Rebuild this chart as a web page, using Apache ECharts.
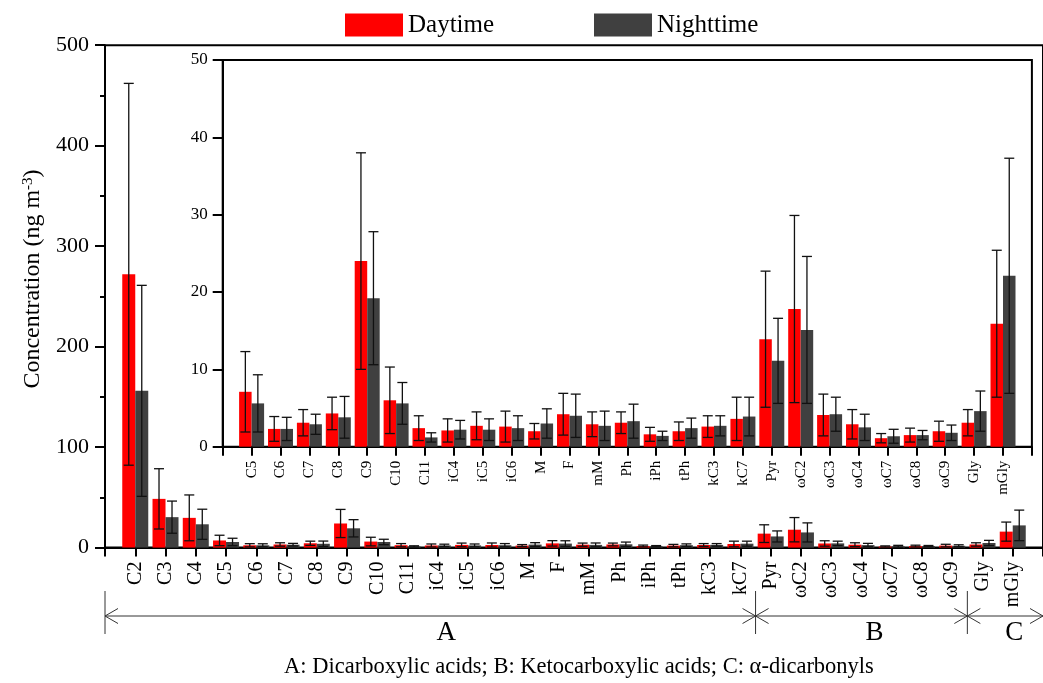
<!DOCTYPE html>
<html>
<head>
<meta charset="utf-8">
<script src="https://cdn.jsdelivr.net/npm/echarts@6/dist/echarts.min.js"></script>
<style>
html,body{margin:0;padding:0;background:#fff;}
#chart{width:1043px;height:683px;}
</style>
</head>
<body>
<div id="chart"></div>
<script>
// ---- data ----
var categories = ['C2','C3','C4','C5','C6','C7','C8','C9','C10','C11','iC4','iC5','iC6','M','F','mM','Ph','iPh','tPh','kC3','kC7','Pyr','ωC2','ωC3','ωC4','ωC7','ωC8','ωC9','Gly','mGly'];
var daytime =      [272, 48.5, 29.6, 7.1, 2.3, 3.1, 4.3, 24.0, 6.0, 2.4, 2.1, 2.7, 2.6, 2.0, 4.2, 2.9, 3.1, 1.6, 2.0, 2.6, 3.6, 13.9, 17.8, 4.1, 2.9, 1.1, 1.5, 2.0, 3.1, 15.9];
var daytimeErr =   [190, 30, 22.8, 5.2, 1.6, 1.7, 2.1, 14.0, 4.3, 1.6, 1.5, 1.8, 2.0, 1.0, 2.7, 1.6, 1.4, 0.9, 1.2, 1.4, 2.8, 8.8, 12.1, 2.7, 1.9, 0.6, 0.9, 1.3, 1.7, 9.5];
var nighttime =    [156, 30.3, 23.2, 5.6, 2.3, 2.9, 3.8, 19.2, 5.6, 1.2, 2.2, 2.2, 2.4, 3.0, 4.0, 2.7, 3.3, 1.4, 2.4, 2.7, 3.9, 11.1, 15.1, 4.2, 2.5, 1.35, 1.5, 1.8, 4.6, 22.1];
var nighttimeErr = [105, 16, 15, 3.7, 1.5, 1.3, 2.7, 8.6, 2.7, 0.6, 1.2, 1.4, 1.6, 1.9, 2.8, 1.9, 2.2, 0.6, 1.3, 1.3, 2.5, 5.5, 9.5, 2.2, 1.7, 0.9, 0.6, 1.0, 2.6, 15.2];
var insetFirst = 'C5';
var groupNames = ['A', 'B', 'C'];
var groupSizes = [21, 7, 2];
var footnote = 'A: Dicarboxylic acids; B: Ketocarboxylic acids; C: α-dicarbonyls';

// ---- build ----
var FONT = "'Liberation Serif','Times New Roman',serif";
var RED = '#ff0000', DARK = '#404040';
var insetStart = categories.indexOf(insetFirst);
var insetCats = categories.slice(insetStart);

function pairs(vals, start) {
  return vals.slice(start).map(function (v, i) { return [i + 1, v]; });
}
function triples(vals, errs, start) {
  return vals.slice(start).map(function (v, i) { return [i + 1, v, errs[start + i]]; });
}
function errSeries(data, xi, offset, cap, z) {
  return {
    type: 'custom', xAxisIndex: xi, yAxisIndex: xi, z: z, silent: true,
    data: data,
    renderItem: function (params, api) {
      var x = api.value(0), y = api.value(1), e = api.value(2);
      var hi = api.coord([x, y + e]);
      var lo = api.coord([x, Math.max(y - e, 0)]);
      var cx = hi[0] + offset;
      var st = { stroke: '#111', lineWidth: 1.3 };
      return { type: 'group', children: [
        { type: 'line', shape: { x1: cx, y1: hi[1], x2: cx, y2: lo[1] }, style: st },
        { type: 'line', shape: { x1: cx - cap, y1: hi[1], x2: cx + cap, y2: hi[1] }, style: st },
        { type: 'line', shape: { x1: cx - cap, y1: lo[1], x2: cx + cap, y2: lo[1] }, style: st }
      ]};
    }
  };
}

var mainBW = 13, insetBW = 12.5;
var axisLineStyle = { lineStyle: { color: '#000', width: 2 } };

var chart = echarts.init(document.getElementById('chart'), null, { renderer: 'canvas' });
var option = {
  animation: false,
  backgroundColor: '#fff',
  legend: [
    { data: ['Daytime'], left: 345, top: 12.5, padding: 0, icon: 'rect', itemWidth: 58, itemHeight: 23,
      textStyle: { fontFamily: FONT, fontSize: 25, color: '#000' } },
    { data: ['Nighttime'], left: 594, top: 12.5, padding: 0, icon: 'rect', itemWidth: 58, itemHeight: 23,
      textStyle: { fontFamily: FONT, fontSize: 25, color: '#000' } }
  ],
  grid: [
    { left: 105, top: 45.2, width: 945.5, height: 502.4, show: true, borderColor: '#000', borderWidth: 2, backgroundColor: 'transparent' },
    { left: 222.7, top: 60, width: 809.2, height: 386.7, show: true, borderColor: '#000', borderWidth: 2, backgroundColor: '#fff', z: 3 }
  ],
  xAxis: [
    { type: 'value', gridIndex: 0, min: 0, max: 31, interval: 1, splitLine: { show: false },
      axisLine: axisLineStyle, axisTick: { length: 9, lineStyle: { width: 2, color: '#000' } },
      axisLabel: { rotate: 90, margin: 14, fontFamily: FONT, fontSize: 20, color: '#000',
        formatter: function (v) { return categories[v - 1] || ''; } } },
    { type: 'value', gridIndex: 1, min: 0, max: 28, interval: 1, splitLine: { show: false }, z: 4,
      axisLine: axisLineStyle, axisTick: { length: 9, lineStyle: { width: 2, color: '#000' } },
      axisLabel: { rotate: 90, margin: 14, fontFamily: FONT, fontSize: 15, color: '#000',
        formatter: function (v) { return insetCats[v - 1] || ''; } } }
  ],
  yAxis: [
    { type: 'value', gridIndex: 0, min: 0, max: 500, interval: 100, splitLine: { show: false },
      axisLine: { show: true, lineStyle: { color: '#000', width: 2 } },
      axisTick: { show: true, length: 10, lineStyle: { width: 2, color: '#000' } },
      minorTick: { show: true, splitNumber: 2, length: 5, lineStyle: { width: 2, color: '#000' } },
      axisLabel: { margin: 16, fontFamily: FONT, fontSize: 22, color: '#000' } },
    { type: 'value', gridIndex: 1, min: 0, max: 50, interval: 10, splitLine: { show: false }, z: 4,
      axisLine: { show: true, lineStyle: { color: '#000', width: 2 } },
      axisTick: { show: true, length: 10, lineStyle: { width: 2, color: '#000' } },
      axisLabel: { margin: 15, fontFamily: FONT, fontSize: 17, color: '#000' } }
  ],
  series: [
    { name: 'Daytime', type: 'bar', xAxisIndex: 0, yAxisIndex: 0, barWidth: mainBW, barGap: '0%', itemStyle: { color: RED }, data: pairs(daytime, 0) },
    { name: 'Nighttime', type: 'bar', xAxisIndex: 0, yAxisIndex: 0, barWidth: mainBW, barGap: '0%', itemStyle: { color: DARK }, data: pairs(nighttime, 0) },
    errSeries(triples(daytime, daytimeErr, 0), 0, -mainBW / 2, 5, 5),
    errSeries(triples(nighttime, nighttimeErr, 0), 0, mainBW / 2, 5, 5),
    { name: 'Daytime', type: 'bar', xAxisIndex: 1, yAxisIndex: 1, z: 4, barWidth: insetBW, barGap: '0%', itemStyle: { color: RED }, data: pairs(daytime, insetStart) },
    { name: 'Nighttime', type: 'bar', xAxisIndex: 1, yAxisIndex: 1, z: 4, barWidth: insetBW, barGap: '0%', itemStyle: { color: DARK }, data: pairs(nighttime, insetStart) },
    errSeries(triples(daytime, daytimeErr, insetStart), 1, -insetBW / 2, 5, 6),
    errSeries(triples(nighttime, nighttimeErr, insetStart), 1, insetBW / 2, 5, 6)
  ]
};
chart.setOption(option);

// ---- annotations: y-axis title, group brackets, footnote ----
var g = [];
g.push({ type: 'text', x: 33, y: 279, rotation: Math.PI / 2, z: 10,
  style: { text: 'Concentration (ng m{sup|-3})', fontFamily: FONT, fontSize: 24, fill: '#000',
    align: 'center', verticalAlign: 'middle',
    rich: { sup: { fontFamily: FONT, fontSize: 15, verticalAlign: 'top', fill: '#000' } } } });

var lineY = 616, vTop = 591, vBot = 634, ahx = 13, ahy = 7.5;
var ls = { stroke: '#333', lineWidth: 1 };
var bounds = [0];
var acc = 0;
groupSizes.forEach(function (n, i) { acc += n; bounds.push(i === groupSizes.length - 1 ? acc + 1 : acc + 0.5); });
var px = bounds.map(function (b) { return chart.convertToPixel({ xAxisIndex: 0 }, b); });
g.push({ type: 'line', shape: { x1: px[0], y1: lineY, x2: px[px.length - 1], y2: lineY }, style: ls });
px.forEach(function (x, i) {
  if (i < px.length - 1) {
    g.push({ type: 'line', shape: { x1: x, y1: vTop, x2: x, y2: vBot }, style: ls });
    g.push({ type: 'polyline', shape: { points: [[x + ahx, lineY - ahy], [x, lineY], [x + ahx, lineY + ahy]] }, style: ls });
  }
  if (i > 0) {
    g.push({ type: 'polyline', shape: { points: [[x - ahx, lineY - ahy], [x, lineY], [x - ahx, lineY + ahy]] }, style: ls });
  }
});
var letterShift = [16, 13, 9];
groupNames.forEach(function (name, i) {
  var cx = (px[i] + px[i + 1]) / 2 + letterShift[i];
  g.push({ type: 'text', x: cx, y: 633, z: 10,
    style: { text: name, fontFamily: FONT, fontSize: 27, fill: '#000', align: 'center', verticalAlign: 'middle' } });
});
g.push({ type: 'text', x: 579, y: 667, z: 10,
  style: { text: footnote, fontFamily: FONT, fontSize: 22.5, fill: '#000', align: 'center', verticalAlign: 'middle' } });
chart.setOption({ graphic: g });
</script>
</body>
</html>
